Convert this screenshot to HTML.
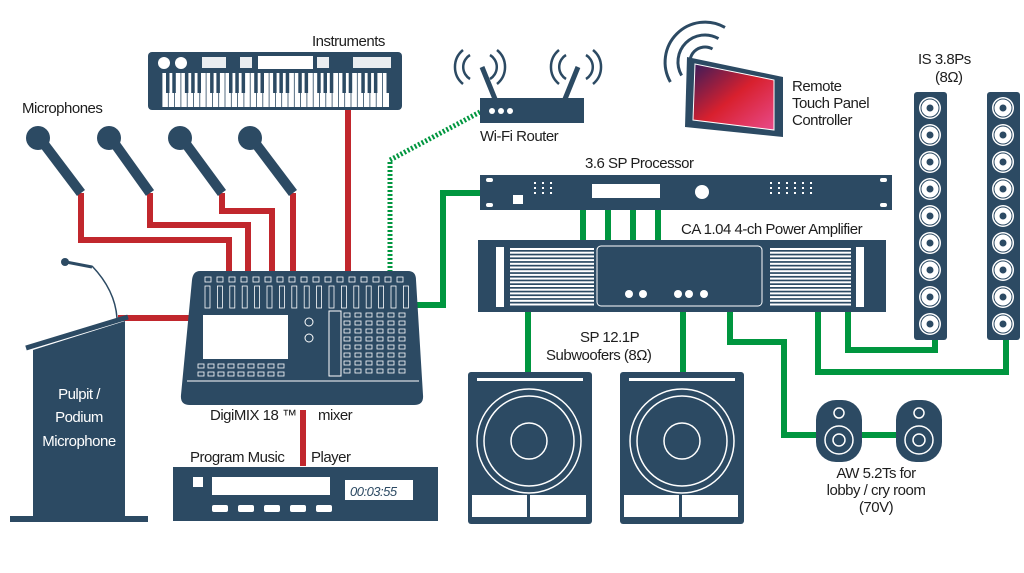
<!DOCTYPE html>
<html><head><meta charset="utf-8"><style>
html,body{margin:0;padding:0;background:#fff;width:1024px;height:573px;overflow:hidden}
svg text{font-family:"Liberation Sans",sans-serif;fill:#1e1e1e;letter-spacing:-0.5px}
</style></head><body>
<svg id="s" width="1024" height="573" viewBox="0 0 1024 573" xmlns="http://www.w3.org/2000/svg">
<g fill="none" stroke="#c1272d" stroke-width="6">
<path d="M81 193V240H229V272"/>
<path d="M150 193V225H248V272"/>
<path d="M222 193V211H272V272"/>
<path d="M293 193V272"/>
<path d="M348 110V272"/>
<path d="M118 318H192"/>
<path d="M303 410V466"/>
</g>
<path d="M390 272V160L480 112" fill="none" stroke="#00963f" stroke-width="5" stroke-dasharray="2 2"/>
<g fill="none" stroke="#00963f" stroke-width="6">
<path d="M412 305H443V193H482"/>
<path d="M583 210V242M608 210V242M633 210V242M658 210V242"/>
<path d="M528 312V374M683 312V374"/>
<path d="M730 312V342H784V435H900"/>
<path d="M818 312V372H1006V340"/>
<path d="M848 312V350H935V340"/>
</g>
<!-- keyboard -->
<rect x="148" y="52" width="254" height="58" rx="4" fill="#2c4a63"/>
<g id="kb"></g>
<g id="mics"></g>
<!-- router -->
<g fill="none" stroke="#2c4a63" stroke-width="2.5">
<path d="M470 55a14 14 0 0 0 0 24M463 50a22 22 0 0 0 0 34M490 55a14 14 0 0 1 0 24M497 50a22 22 0 0 1 0 34"/>
<path d="M566 55a14 14 0 0 0 0 24M559 50a22 22 0 0 0 0 34M586 55a14 14 0 0 1 0 24M593 50a22 22 0 0 1 0 34"/>
</g>
<g fill="none" stroke="#2c4a63" stroke-width="3">
<path d="M692 69.5A15 15 0 0 1 712.5 49"/>
<path d="M681.6 75.5A27 27 0 0 1 718.5 38.6"/>
<path d="M670.4 82A40 40 0 0 1 725 27.4"/>
</g>
<path d="M482 67L495 99M578 67L565 99" stroke="#2c4a63" stroke-width="5"/>
<rect x="480" y="98" width="104" height="25" fill="#2c4a63"/>
<circle cx="492" cy="111" r="3" fill="#fff"/><circle cx="501" cy="111" r="3" fill="#fff"/><circle cx="510" cy="111" r="3" fill="#fff"/>
<text x="480" y="141" font-size="15">Wi-Fi Router</text>
<!-- tablet -->
<path d="M687 57L783 77L783 137L685 127Z" fill="#2c4a63"/>
<defs><linearGradient id="g" x1="0" y1="0" x2="1" y2="1"><stop offset="0" stop-color="#3a1c5a"/><stop offset=".5" stop-color="#d8202e"/><stop offset="1" stop-color="#e84a8a"/></linearGradient></defs>
<path d="M695 64L774 80L774 130L693 120Z" fill="url(#g)" stroke="#fff" stroke-width="1"/>
<text x="792" y="91" font-size="15">Remote</text>
<text x="792" y="108" font-size="15">Touch Panel</text>
<text x="792" y="125" font-size="15">Controller</text>
<text x="312" y="46" font-size="15">Instruments</text>
<text x="22" y="113" font-size="15">Microphones</text>
<!-- pulpit -->
<path d="M33 350L125 321V520H33Z" fill="#2c4a63"/>
<rect x="10" y="516" width="138" height="6" fill="#2c4a63"/>
<path d="M26 348L128 317" stroke="#2c4a63" stroke-width="5"/>
<path d="M117 318Q115 290 92 266" fill="none" stroke="#2c4a63" stroke-width="1.5"/>
<path d="M66 262L92 267" stroke="#2c4a63" stroke-width="3"/>
<circle cx="65" cy="262" r="4" fill="#2c4a63"/>
<g font-size="15" text-anchor="middle"><text x="79" y="399" style="fill:#fff">Pulpit /</text><text x="79" y="422" style="fill:#fff">Podium</text><text x="79" y="446" style="fill:#fff">Microphone</text></g>
<!-- mixer -->
<path d="M200 271L408 271Q416 271 416 280L423 395Q424 405 414 405H190Q180 405 181 395L192 280Q193 271 200 271Z" fill="#2c4a63"/>
<path d="M187 381H419" stroke="#fff" stroke-width="1"/>
<rect x="203" y="315" width="85" height="44" fill="#fff"/>
<g id="mix"></g>
<text x="210" y="420" font-size="15">DigiMIX 18 ™</text>
<text x="318" y="420" font-size="15">mixer</text>
<!-- player -->
<text x="190" y="462" font-size="15">Program Music</text>
<text x="311" y="462" font-size="15">Player</text>
<rect x="173" y="467" width="265" height="54" fill="#2c4a63"/>
<rect x="193" y="477" width="10" height="10" fill="#fff"/>
<rect x="212" y="477" width="118" height="18" fill="#fff"/>
<rect x="345" y="480" width="68" height="20" fill="#fff"/>
<text x="350" y="496" font-size="13" style="font-style:italic;fill:#2c4a63">00:03:55</text>
<g id="pb"></g>
<!-- processor -->
<text x="585" y="168" font-size="15">3.6 SP Processor</text>
<rect x="480" y="175" width="412" height="35" fill="#2c4a63"/>
<rect x="592" y="184" width="68" height="14" fill="#fff"/>
<circle cx="702" cy="192" r="7" fill="#fff"/>
<rect x="513" y="195" width="10" height="9" fill="#fff"/>
<!-- amp -->
<text x="681" y="234" font-size="15">CA 1.04 4-ch Power Amplifier</text>
<rect x="478" y="240" width="408" height="72" fill="#2c4a63"/>
<rect x="597" y="246" width="165" height="60" rx="4" fill="none" stroke="#fff" stroke-width="1"/>
<rect x="496" y="247" width="8" height="60" fill="#fff"/>
<rect x="856" y="247" width="8" height="60" fill="#fff"/>
<g id="amp"></g>
<!-- subs -->
<text x="580" y="342" font-size="15">SP 12.1P</text>
<text x="546" y="360" font-size="15">Subwoofers (8Ω)</text>
<g id="subs"></g>
<!-- columns -->
<text x="918" y="64" font-size="15">IS 3.8Ps</text>
<text x="935" y="82" font-size="15">(8Ω)</text>
<rect x="914" y="92" width="33" height="248" rx="3" fill="#2c4a63"/>
<rect x="987" y="92" width="33" height="248" rx="3" fill="#2c4a63"/>
<g id="cols"></g>
<!-- small speakers -->
<rect x="816" y="400" width="46" height="62" rx="20" fill="#2c4a63"/>
<rect x="896" y="400" width="46" height="62" rx="20" fill="#2c4a63"/>
<g fill="none" stroke="#fff" stroke-width="1.5"><circle cx="839" cy="413" r="5"/><circle cx="839" cy="440" r="14"/><circle cx="839" cy="440" r="6"/><circle cx="919" cy="413" r="5"/><circle cx="919" cy="440" r="14"/><circle cx="919" cy="440" r="6"/></g>
<g font-size="15" text-anchor="middle"><text x="876" y="478">AW 5.2Ts for</text><text x="876" y="495">lobby / cry room</text><text x="876" y="512">(70V)</text></g>
<script>
var N="http://www.w3.org/2000/svg";
function a(p,t,o){var e=document.createElementNS(N,t);for(var k in o)e.setAttribute(k,o[k]);document.getElementById(p).appendChild(e);}
a('kb','rect',{x:162,y:73,width:227,height:34,fill:'#fff'});
for(var i=0;i<36;i++)a('kb','line',{x1:162+i*6.3,y1:73,x2:162+i*6.3,y2:107,stroke:'#2c4a63','stroke-width':0.8});
for(var i=0;i<36;i++){if([2,6].indexOf(i%7)>=0)continue;a('kb','rect',{x:166+i*6.3,y:73,width:3.5,height:20,fill:'#2c4a63'});}
a('kb','circle',{cx:164,cy:63,r:6,fill:'#fff'});a('kb','circle',{cx:181,cy:63,r:6,fill:'#fff'});
a('kb','rect',{x:258,y:56,width:55,height:13,fill:'#fff'});
[[202,24],[240,12],[317,12],[353,38]].forEach(function(b){a('kb','rect',{x:b[0],y:57,width:b[1],height:11,fill:'#fff',opacity:.9});});
[[38,138,81],[109,138,150],[180,138,222],[250,138,293]].forEach(function(m){
a('mics','line',{x1:m[0]+6,y1:m[1]+6,x2:m[2],y2:193,stroke:'#2c4a63','stroke-width':10});
a('mics','circle',{cx:m[0],cy:m[1],r:12,fill:'#2c4a63'});});
for(var i=0;i<17;i++){a('mix','rect',{x:205+i*12,y:277,width:6,height:5,fill:'none',stroke:'#fff','stroke-width':0.8});a('mix','rect',{x:205+i*12.4,y:286,width:5,height:22,fill:'none',stroke:'#fff','stroke-width':0.8});}
for(var r=0;r<8;r++)for(var c=0;c<6;c++)a('mix','rect',{x:344+c*11,y:313+r*8,width:6,height:4,fill:'none',stroke:'#fff','stroke-width':0.8});
for(var c=0;c<9;c++){a('mix','rect',{x:198+c*10,y:364,width:6,height:4,fill:'none',stroke:'#fff','stroke-width':0.8});a('mix','rect',{x:198+c*10,y:372,width:6,height:4,fill:'none',stroke:'#fff','stroke-width':0.8});}
a('mix','rect',{x:329,y:311,width:12,height:65,fill:'none',stroke:'#fff','stroke-width':1});
a('mix','circle',{cx:309,cy:322,r:4,fill:'none',stroke:'#fff'});a('mix','circle',{cx:309,cy:338,r:4,fill:'none',stroke:'#fff'});
for(var i=0;i<5;i++)a('pb','rect',{x:212+i*26,y:505,width:16,height:7,rx:2,fill:'#fff'});
[[486,178],[486,203],[880,178],[880,203]].forEach(function(p){a('amp','rect',{x:p[0],y:p[1],width:7,height:4,rx:2,fill:'#fff'});});
for(var c=0;c<6;c++)for(var r=0;r<3;r++){a('amp','rect',{x:770+c*8,y:182+r*5,width:2,height:2,fill:'#fff'});}
for(var c=0;c<3;c++)for(var r=0;r<3;r++){a('amp','rect',{x:534+c*8,y:182+r*5,width:2,height:2,fill:'#fff'});}
for(var r=0;r<16;r++){a('amp','rect',{x:510,y:248+r*3.7,width:84,height:2,fill:'#fff'});a('amp','rect',{x:770,y:248+r*3.7,width:81,height:2,fill:'#fff'});}
[[642,294],[656,294],[702,294],[717,294]].forEach(function(p){a('amp','circle',{cx:p[0]-13,cy:p[1],r:4,fill:'#fff'});});
a('amp','circle',{cx:678,cy:294,r:4,fill:'#fff'});
[[468,529],[620,682]].forEach(function(s){
a('subs','rect',{x:s[0],y:372,width:124,height:152,rx:3,fill:'#2c4a63'});
a('subs','rect',{x:s[0]+9,y:378,width:106,height:3,fill:'#fff'});
a('subs','circle',{cx:s[1],cy:441,r:52,fill:'none',stroke:'#fff','stroke-width':1.5});
a('subs','circle',{cx:s[1],cy:441,r:45,fill:'none',stroke:'#fff','stroke-width':1.5});
a('subs','circle',{cx:s[1],cy:441,r:18,fill:'none',stroke:'#fff','stroke-width':1.5});
a('subs','rect',{x:s[0]+4,y:495,width:55,height:22,fill:'#fff'});
a('subs','rect',{x:s[0]+62,y:495,width:56,height:22,fill:'#fff'});});
[930,1003].forEach(function(x){for(var i=0;i<9;i++){a('cols','circle',{cx:x,cy:108+i*27,r:11,fill:'#fff'});a('cols','circle',{cx:x,cy:108+i*27,r:9,fill:'none',stroke:'#2c4a63','stroke-width':1});a('cols','circle',{cx:x,cy:108+i*27,r:3.5,fill:'#2c4a63'});}});
</script>
</svg>
</body></html>
